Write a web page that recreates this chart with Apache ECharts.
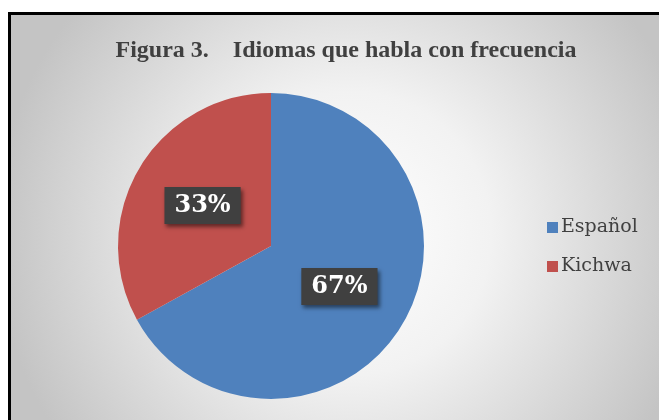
<!DOCTYPE html>
<html>
<head>
<meta charset="utf-8">
<script src="https://cdn.jsdelivr.net/npm/echarts@6/dist/echarts.min.js"></script>
<style>
html, body { margin: 0; padding: 0; background: #fff; }
#chart { width: 659px; height: 420px; }
</style>
</head>
<body>
<div id="chart"></div>
<script>
var categories = ['Español', 'Kichwa'];
var values = [67, 33];
var colors = ['#4f81bd', '#c0504d'];

var chart = echarts.init(document.getElementById('chart'));

var pieData = [];
for (var i = 0; i < categories.length; i++) {
	pieData.push({ name: categories[i], value: values[i], itemStyle: { color: colors[i] } });
}

chart.setOption({
	animation: false,
	graphic: [{
		type: 'rect',
		z: -10,
		shape: { x: 9.5, y: 13.5, width: 680, height: 440 },
		style: {
			fill: {
				type: 'radial', x: 0.5, y: 0.5, r: 0.8,
				colorStops: [
					{ offset: 0, color: '#ffffff' },
					{ offset: 0.4, color: '#f2f2f2' },
					{ offset: 1, color: '#c4c4c4' }
				]
			},
			stroke: '#000',
			lineWidth: 3
		}
	}],
	title: {
		text: 'Figura 3.    Idiomas que habla con frecuencia',
		left: 341,
		top: 34,
		textAlign: 'center',
		textStyle: {
			fontFamily: 'Liberation Serif',
			fontWeight: 'bold',
			fontSize: 24,
			color: '#404040'
		}
	},
	legend: {
		orient: 'vertical',
		left: 542,
		top: 213,
		itemWidth: 11,
		itemHeight: 11,
		itemGap: 20,
		icon: 'rect',
		textStyle: {
			fontFamily: 'DejaVu Serif',
			fontSize: 19,
			color: '#404040',
			padding: [0, 0, 0, -2]
		},
		data: categories
	},
	series: [{
		type: 'pie',
		center: [271, 246],
		radius: 153,
		startAngle: 90,
		clockwise: true,
		label: {
			position: 'inside',
			formatter: '{d}%',
			fontFamily: 'DejaVu Serif',
			fontWeight: 'bold',
			fontSize: 24,
			color: '#fff',
			backgroundColor: '#404040',
			padding: [7, 10, 6, 10],
			shadowColor: 'rgba(0,0,0,0.5)',
			shadowBlur: 4,
			shadowOffsetX: 2,
			shadowOffsetY: 3
		},
		labelLine: { show: false },
		data: pieData
	}]
});
</script>
</body>
</html>
